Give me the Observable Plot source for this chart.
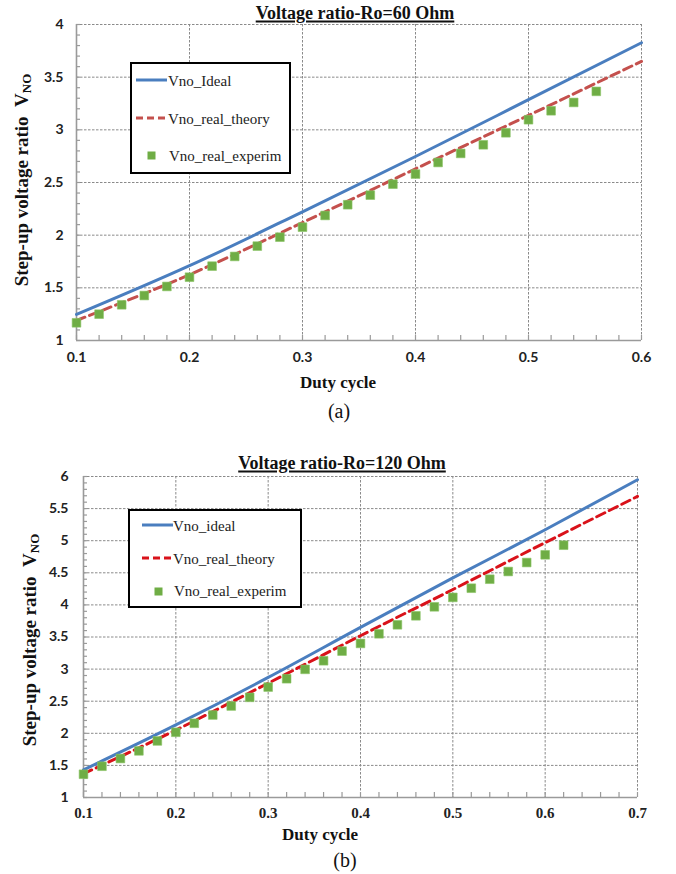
<!DOCTYPE html>
<html>
<head>
<meta charset="utf-8">
<script src="https://cdn.jsdelivr.net/npm/d3@7"></script>
<script src="https://cdn.jsdelivr.net/npm/@observablehq/plot@0.6"></script>
<style>
  body { margin: 0; background: #fff; }
  #root { position: relative; width: 676px; height: 874px; overflow: hidden; background: #fff; }
  .abs { position: absolute; white-space: nowrap; line-height: 1; }
  .ctr { transform: translate(-50%, -50%); }
  .title { font: bold 18px "Liberation Serif", serif; text-decoration: underline; text-decoration-thickness: 2px; text-underline-offset: 2px; color: #111; }
  .ylab { font: bold 19px "Liberation Serif", serif; transform: translate(-50%, -50%) rotate(-90deg); color: #111; }
  .ylab sub { font-size: 13px; vertical-align: -3px; }
  .xlab { font: bold 17px "Liberation Serif", serif; color: #111; }
  .cap { font: 20px "Liberation Serif", serif; color: #111; }
  .legend { position: absolute; box-sizing: border-box; border: 2.5px solid #000; background: #fff; }
  .ltext { font: 15px "Liberation Serif", serif; color: #222; transform: translateY(-50%); }
  .chart { position: absolute; left: 0; }
  .chart svg { overflow: visible; }
</style>
</head>
<body>
<div id="root"></div>
<script>
// ---------- data: chart (a) Ro = 60 Ohm ----------
const dutyTop = [0.1, 0.2, 0.3, 0.4, 0.5, 0.6];
const idealTop = [1.247, 1.71, 2.222, 2.747, 3.286, 3.827];
const theoryTop = [1.19, 1.625, 2.12, 2.63, 3.137, 3.65];
const expDutyTop = [0.10, 0.12, 0.14, 0.16, 0.18, 0.20, 0.22, 0.24, 0.26, 0.28, 0.30, 0.32,
                    0.34, 0.36, 0.38, 0.40, 0.42, 0.44, 0.46, 0.48, 0.50, 0.52, 0.54, 0.56];
const expTop = [1.168, 1.25, 1.339, 1.427, 1.513, 1.601, 1.706, 1.798, 1.896, 1.981, 2.076, 2.187,
                2.289, 2.38, 2.484, 2.58, 2.69, 2.776, 2.858, 2.972, 3.096, 3.181, 3.26, 3.365];
const xTicksTop = [0.1, 0.2, 0.3, 0.4, 0.5, 0.6];
const yTicksTop = [1, 1.5, 2, 2.5, 3, 3.5, 4];

// ---------- data: chart (b) Ro = 120 Ohm ----------
const dutyBot = [0.1, 0.2, 0.3, 0.4, 0.5, 0.6, 0.7];
const idealBot = [1.43, 2.13, 2.87, 3.65, 4.42, 5.17, 5.95];
const theoryBot = [1.37, 2.05, 2.78, 3.52, 4.24, 4.97, 5.69];
const expDutyBot = [0.10, 0.12, 0.14, 0.16, 0.18, 0.20, 0.22, 0.24, 0.26, 0.28, 0.30, 0.32, 0.34,
                    0.36, 0.38, 0.40, 0.42, 0.44, 0.46, 0.48, 0.50, 0.52, 0.54, 0.56, 0.58, 0.60, 0.62];
const expBot = [1.362, 1.487, 1.607, 1.726, 1.881, 2.016, 2.156, 2.285, 2.425, 2.56, 2.72, 2.85, 2.996,
                3.13, 3.28, 3.40, 3.55, 3.69, 3.83, 3.97, 4.117, 4.26, 4.40, 4.52, 4.66, 4.78, 4.93];
const xTicksBot = [0.1, 0.2, 0.3, 0.4, 0.5, 0.6, 0.7];
const yTicksBot = [1, 1.5, 2, 2.5, 3, 3.5, 4, 4.5, 5, 5.5, 6];

const seriesNames = ["Vno_Ideal", "Vno_real_theory", "Vno_real_experim"];
const seriesNamesBot = ["Vno_ideal", "Vno_real_theory", "Vno_real_experim"];

const BLUE = "#4a7ebf";
const RED_TOP = "#c4504d";
const RED_BOT = "#d9121a";
const GREEN = "#6fad45";
const GRID = "#8a8a8a";
const AXIS = "#9a9a9a";

function range(a, b, step) {
  // tick positions for minor ticks (axis decoration only)
  const out = [];
  const n = Math.round((b - a) / step);
  for (let i = 0; i <= n; i++) out.push(+(a + i * step).toFixed(4));
  return out;
}

function makeChart(cfg) {
  const plotW = cfg.width - cfg.ml - cfg.mr;
  const plotH = cfg.height - cfg.mt - cfg.mb;
  const lineData = cfg.duty.map((d, i) => ({d, ideal: cfg.ideal[i], theory: cfg.theory[i]}));
  const expData = cfg.expDuty.map((d, i) => ({d, v: cfg.exp[i]}));
  return Plot.plot({
    width: cfg.width, height: cfg.height,
    marginTop: cfg.mt, marginBottom: cfg.mb, marginLeft: cfg.ml, marginRight: cfg.mr,
    x: {domain: cfg.xDomain},
    y: {domain: cfg.yDomain},
    style: {background: "transparent", overflow: "visible"},
    marks: [
      Plot.gridX(cfg.xTicks.slice(1), {stroke: GRID, strokeOpacity: 1, strokeWidth: 1, strokeDasharray: "2.5,1.5"}),
      Plot.gridY(cfg.yTicks.slice(1), {stroke: GRID, strokeOpacity: 1, strokeWidth: 1, strokeDasharray: "2.5,1.5"}),
      Plot.ruleX(range(cfg.xDomain[0], cfg.xDomain[1], 0.02), {x: d => d, insetTop: plotH - 5, stroke: AXIS, strokeWidth: 1.2}),
      Plot.ruleY(range(cfg.yDomain[0], cfg.yDomain[1], 0.1), {y: d => d, insetRight: plotW - 4, stroke: AXIS, strokeWidth: 1.2}),
      Plot.ruleX([cfg.xDomain[0]], {stroke: AXIS, strokeWidth: 1.6}),
      Plot.ruleY([cfg.yDomain[0]], {stroke: AXIS, strokeWidth: 1.6}),
      Plot.line(lineData, {x: "d", y: "ideal", stroke: BLUE, strokeWidth: 3, curve: "monotone-x"}),
      Plot.line(lineData, {x: "d", y: "theory", stroke: cfg.red, strokeWidth: 3, strokeDasharray: "9,5", curve: "monotone-x"}),
      Plot.dot(expData, {x: "d", y: "v", symbol: "square", r: 4.9, fill: GREEN, stroke: "#8cc466", strokeWidth: 0.6}),
      Plot.axisX(cfg.xTicks, {tickSize: 0, tickPadding: cfg.xPad, tickFormat: d => d.toFixed(1), label: null,
        fontSize: cfg.xFontSize, fontWeight: "bold", fontFamily: cfg.xFont, fill: "#222"}),
      Plot.axisY(cfg.yTicks, {tickSize: 0, tickPadding: cfg.yPad, tickFormat: d => String(d), label: null,
        fontSize: 14, fontWeight: "bold", fontFamily: "Lato, 'Open Sans', sans-serif", fill: "#222"})
    ]
  });
}

const root = document.getElementById("root");

function addDiv(cls, html, styles) {
  const el = document.createElement("div");
  el.className = cls;
  el.innerHTML = html;
  Object.assign(el.style, styles);
  root.appendChild(el);
  return el;
}

// ---- chart (a)
const topWrap = addDiv("chart", "", {top: "0px"});
topWrap.appendChild(makeChart({
  width: 676, height: 400, mt: 24, mb: 60, ml: 76, mr: 35,
  xDomain: [0.1, 0.6], yDomain: [1, 4],
  duty: dutyTop, ideal: idealTop, theory: theoryTop, expDuty: expDutyTop, exp: expTop,
  xTicks: xTicksTop, yTicks: yTicksTop, red: RED_TOP,
  xPad: 12, yPad: 13, xFontSize: 14, xFont: "Lato, 'Open Sans', sans-serif"
}));

// ---- chart (b)
const botWrap = addDiv("chart", "", {top: "440px"});
botWrap.appendChild(makeChart({
  width: 676, height: 434, mt: 36, mb: 77, ml: 83, mr: 39,
  xDomain: [0.1, 0.7], yDomain: [1, 6],
  duty: dutyBot, ideal: idealBot, theory: theoryBot, expDuty: expDutyBot, exp: expBot,
  xTicks: xTicksBot, yTicks: yTicksBot, red: RED_BOT,
  xPad: 10, yPad: 15, xFontSize: 15, xFont: "'Liberation Serif', serif"
}));

// ---- texts chart (a)
addDiv("abs ctr title", "Voltage ratio-Ro=60 Ohm", {left: "355px", top: "13px"});
addDiv("abs ylab", "Step-up voltage ratio&nbsp;&nbsp;V<sub>NO</sub>", {left: "23px", top: "180px"});
addDiv("abs ctr xlab", "Duty cycle", {left: "338px", top: "383px"});
addDiv("abs ctr cap", "(a)", {left: "339px", top: "411px"});

// ---- texts chart (b)
addDiv("abs ctr title", "Voltage ratio-Ro=120 Ohm", {left: "342px", top: "463px"});
addDiv("abs ylab", "Step-up voltage ratio&nbsp;&nbsp;V<sub>NO</sub>", {left: "31px", top: "640px"});
addDiv("abs ctr xlab", "Duty cycle", {left: "320px", top: "835px"});
addDiv("abs ctr cap", "(b)", {left: "345px", top: "860px"});

// ---- legends
function legend(box, rows, names, red) {
  addDiv("legend", "", {left: box.x + "px", top: box.y + "px", width: box.w + "px", height: box.h + "px"});
  const samples = [
    `<svg width="32" height="6"><line x1="0" y1="3" x2="31" y2="3" stroke="${BLUE}" stroke-width="3"/></svg>`,
    `<svg width="32" height="6"><line x1="0" y1="3" x2="31" y2="3" stroke="${red}" stroke-width="3" stroke-dasharray="7,4"/></svg>`,
    `<svg width="9" height="9"><rect x="0.5" y="0.5" width="8" height="8" fill="${GREEN}"/></svg>`
  ];
  rows.forEach((ry, i) => {
    if (i < 2) {
      addDiv("abs", samples[i], {left: box.lineX + "px", top: (ry - 4) + "px", lineHeight: "0"});
    } else {
      addDiv("abs", samples[i], {left: (box.markX - 4.5) + "px", top: (ry - 4.5) + "px", lineHeight: "0"});
    }
    addDiv("abs ltext", names[i], {left: (box.textX + (i === 2 ? 1 : 0)) + "px", top: ry + "px"});
  });
}
legend({x: 130, y: 62, w: 161, h: 112, lineX: 136, textX: 168, markX: 151}, [80.5, 118.5, 155.5], seriesNames, RED_TOP);
legend({x: 128, y: 509, w: 174, h: 99, lineX: 142, textX: 173, markX: 158}, [526, 559, 591], seriesNamesBot, RED_BOT);
</script>
</body>
</html>
